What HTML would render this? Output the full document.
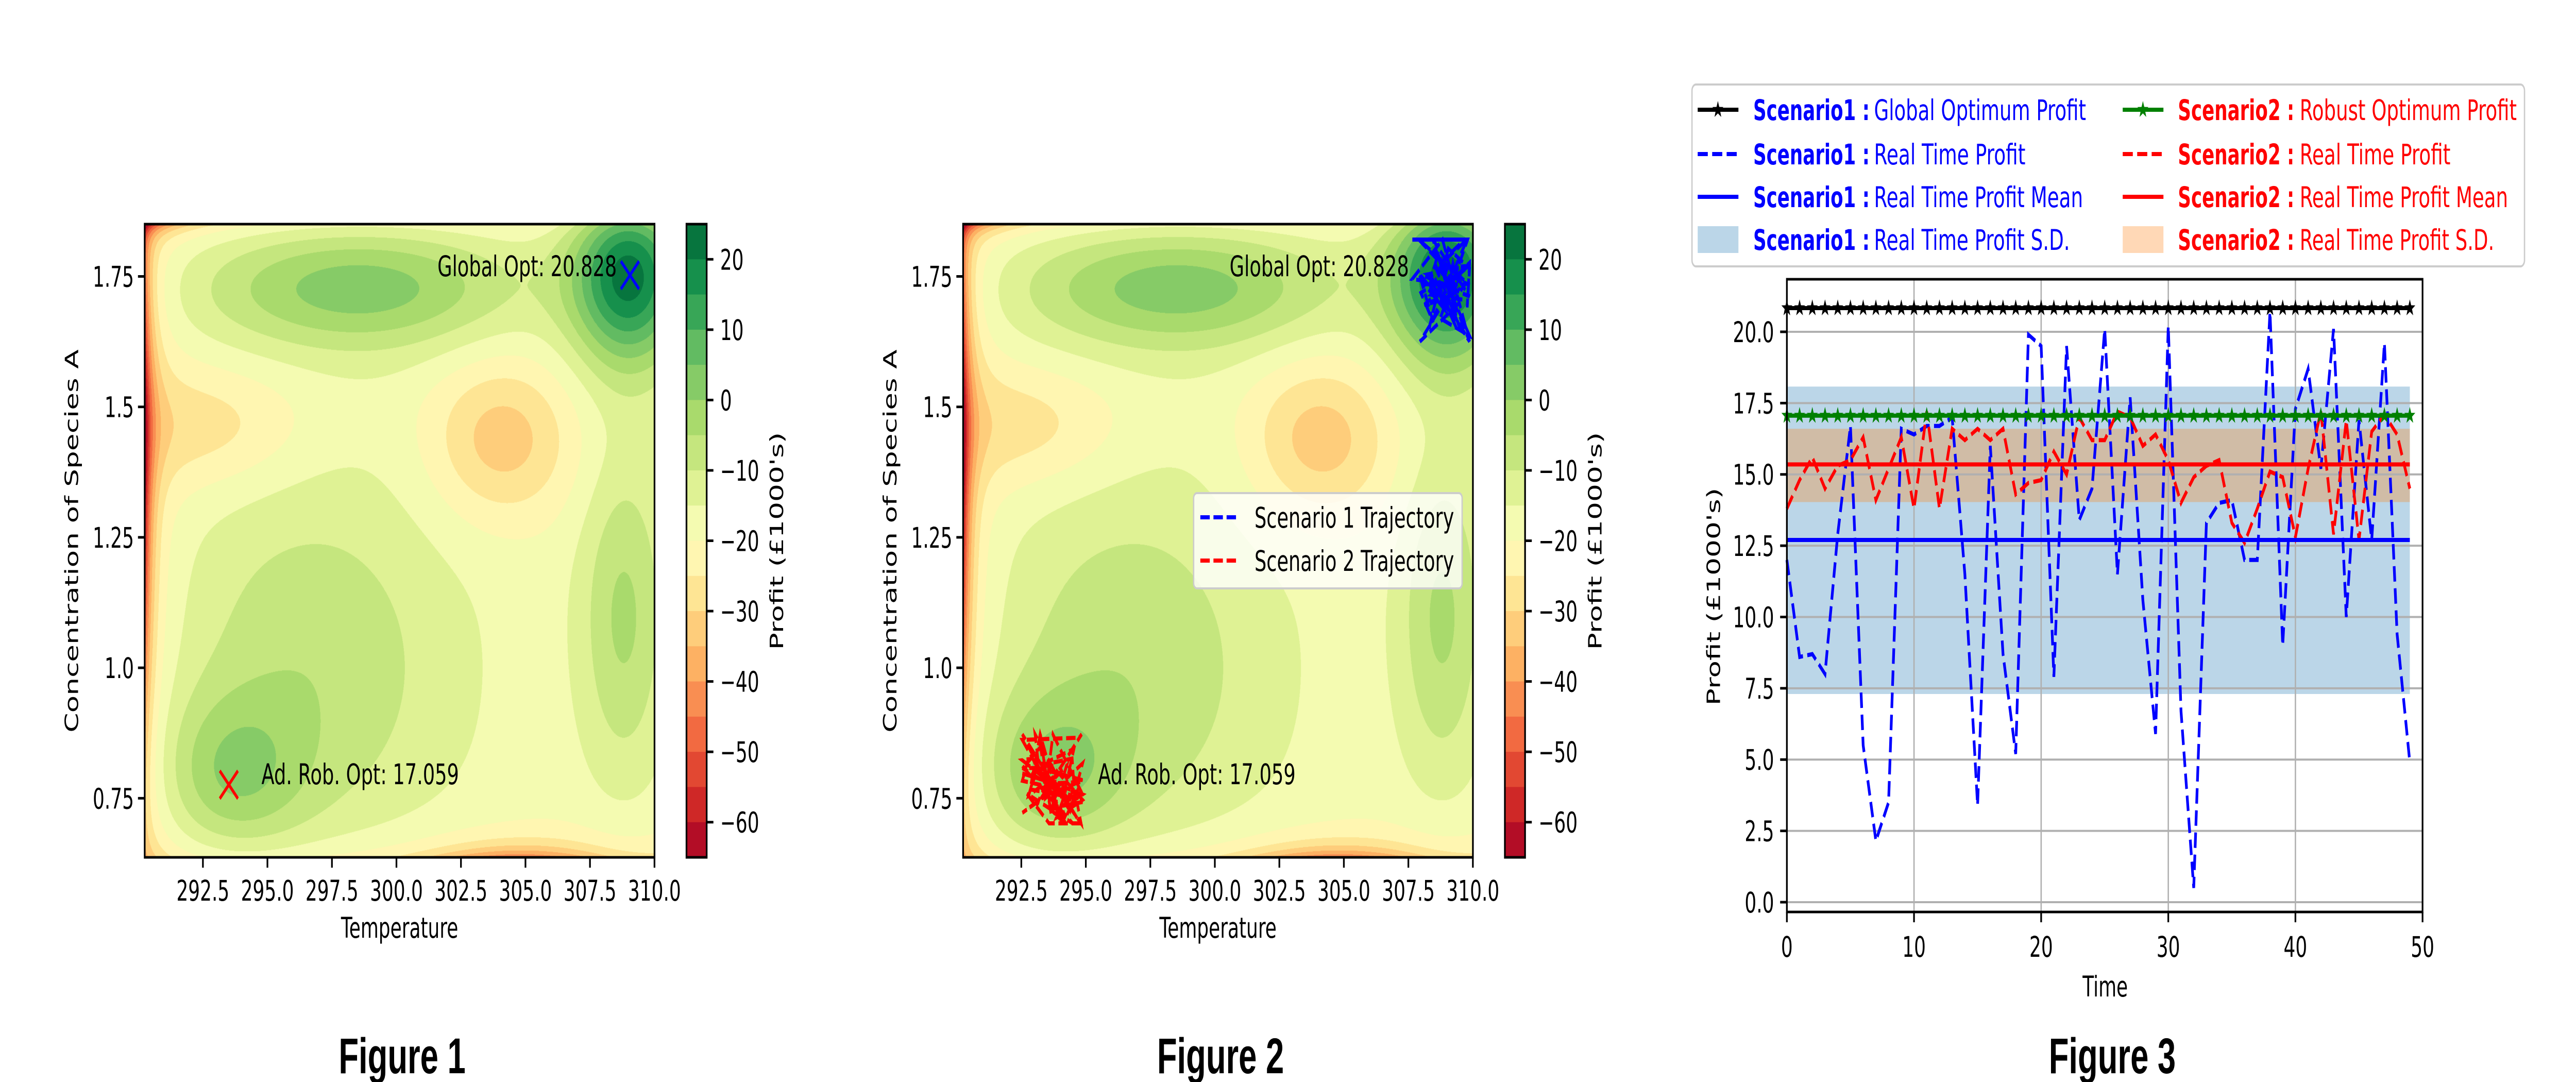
<!DOCTYPE html>
<html><head><meta charset="utf-8">
<meta name="viewport" content="width=7655, initial-scale=1">
<style>
html,body{margin:0;padding:0;background:#fff;overflow:hidden;}
#wrap{position:absolute;left:0;top:0;width:7655px;height:2100px;overflow:hidden;background:#fff;transform-origin:0 0;}
canvas{position:absolute;}
svg{position:absolute;left:0;top:0;}
text{font-family:"DejaVu Sans","Liberation Sans",sans-serif;}
</style></head><body>
<div id="wrap">
<canvas id="c1" width="1515" height="1229" style="left:430px;top:435px;"></canvas>
<canvas id="c2" width="1515" height="1229" style="left:2862px;top:435px;"></canvas>
<svg id="s" width="7655" height="2100" viewBox="0 0 7655 2100" xmlns="http://www.w3.org/2000/svg" style="overflow:hidden">
<defs>
<clipPath id="cp2"><rect x="2862" y="435" width="1515" height="1229"/></clipPath>
<polygon id="star" points="0,-17 4,-5.5 16.2,-5.3 6.5,2 10,14 0,7 -10,14 -6.5,2 -16.2,-5.3 -4,-5.5"/>
</defs>
<g id="g1"></g>
<g id="g2"></g>
<g id="g3"></g>
</svg>
</div>
<script>
(function(){var w=document.documentElement.clientWidth||window.innerWidth,h=window.innerHeight||document.documentElement.clientHeight;
if(w&&h&&(Math.abs(w-7655)>2||Math.abs(h-2100)>2)){document.getElementById('wrap').style.transform='scale('+(w/7655)+','+(h/2100)+')';}})();
var NS="http://www.w3.org/2000/svg";
function el(p,tag,attrs,txt){var e=document.createElementNS(NS,tag);for(var k in attrs)e.setAttribute(k,attrs[k]);if(txt!==undefined)e.textContent=txt;p.appendChild(e);return e;}
var anch=[[165,0,38],[215,48,39],[244,109,67],[253,174,97],[254,224,139],[255,255,191],[217,239,139],[166,217,106],[102,189,99],[26,152,80],[0,104,55]];
function cmap(t){t=Math.max(0,Math.min(1,t))*10;var i=Math.min(9,Math.floor(t)),f=t-i;var a=anch[i],b=anch[i+1];return [Math.round(a[0]+(b[0]-a[0])*f),Math.round(a[1]+(b[1]-a[1])*f),Math.round(a[2]+(b[2]-a[2])*f)];}
var NB=18,bandCol=[];for(var i=0;i<NB;i++)bandCol.push(cmap((i+0.5)/NB));
function G(dx,dy,sx,sy){return Math.exp(-0.5*(dx*dx/(sx*sx)+dy*dy/(sy*sy)));}
function f(u,v){
 var r=-18;
 r+=40*G(u-.95,v-.92,.08,.10);
 r+=21*G(u-.42,v-.90,.22,.07);
 r+=12*G(u-.33,v-.30,.20,.22);
 r+=14*G(u-.17,v-.13,.10,.09);
 r+=14*G(u-.94,v-.38,.06,.18);
 r-=15*G(u-.70,v-.66,.10,.09);
 r-=10*G(u-.12,v-.68,.14,.07);
 r-=38*Math.exp(-u/.015)*Math.exp(-0.5*Math.pow((v-.62)/.3,2));
 r-=10*Math.exp(-u/.05);
 r-=25*Math.exp(-(1-v)/.015)*Math.exp(-u/.08);
 r-=20*Math.exp(-v/.02)*Math.exp(-0.5*Math.pow((u-.73)/.12,2));
 r-=8*Math.exp(-v/.04);
 r-=6*Math.exp(-(1-v)/.03);
 return r;
}
var cv=document.getElementById('c1'),ctx=cv.getContext('2d');
var W=1515,H=1229,img=ctx.createImageData(W,H),d=img.data;
for(var y=0;y<H;y++){var v=1-(y+0.5)/H;for(var x=0;x<W;x++){var u=(x+0.5)/W;var z=f(u,v);var b=Math.floor((z+65)/5);if(b<0)b=0;if(b>17)b=17;var c=bandCol[b];var k=(y*W+x)*4;d[k]=c[0];d[k+1]=c[1];d[k+2]=c[2];d[k+3]=255;}}
ctx.putImageData(img,0,0);
document.getElementById('c2').getContext('2d').drawImage(cv,0,0);

function contourFig(g,ox,traj){
 var L=430+ox,R=1945+ox,T=435,B=1664;
 var xs=function(t){return 603+ox+(t-292.5)/2.5*191.7;};
 var ys=function(c){return 536.5+(1.75-c)/0.25*253.2;};
 if(traj){
  var seed=7;function rnd(){seed=(seed*16807)%2147483647;return seed/2147483647;}
  function walk(x0,x1,y0,y1,n,col){var pts=[];for(var i=0;i<n;i++){var a=(rnd()+rnd())/2,b=(rnd()+rnd())/2;a=Math.max(0,Math.min(1,0.5+(a-0.5)*1.5));b=Math.max(0,Math.min(1,0.5+(b-0.5)*1.5));pts.push((x0+a*(x1-x0)).toFixed(1)+','+(y0+b*(y1-y0)).toFixed(1));}
   el(g,'polyline',{points:pts.join(' '),fill:'none',stroke:col,'stroke-width':8,'stroke-dasharray':'28,11','clip-path':'url(#cp2)'});}
  walk(4197,4367,465,663,60,'#0000ff');
  walk(3038,3217,1425,1598,70,'#ff0000');
 }
 if(!traj){
  var bx=1872+ox,by=534;el(g,'path',{d:'M'+(bx-27)+','+(by-27)+'L'+(bx+27)+','+(by+27)+'M'+(bx-27)+','+(by+27)+'L'+(bx+27)+','+(by-27),stroke:'#0000ff','stroke-width':7,fill:'none'});
  var rx=680+ox,ry=1523;el(g,'path',{d:'M'+(rx-27)+','+(ry-27)+'L'+(rx+27)+','+(ry+27)+'M'+(rx-27)+','+(ry+27)+'L'+(rx+27)+','+(ry-27),stroke:'#ff0000','stroke-width':7,fill:'none'});
 }
 el(g,'text',{x:(traj?4187:1833),y:536,'font-size':55,'text-anchor':'end',textLength:533,lengthAdjust:'spacingAndGlyphs'},'Global Opt: 20.828');
 el(g,'text',{x:(traj?3263:777),y:1522,'font-size':55,textLength:587,lengthAdjust:'spacingAndGlyphs'},'Ad. Rob. Opt: 17.059');
 el(g,'rect',{x:L,y:T,width:R-L,height:B-T,fill:'none',stroke:'#000','stroke-width':5});
 var xt=['292.5','295.0','297.5','300.0','302.5','305.0','307.5','310.0'];
 for(var i=0;i<xt.length;i++){var X=xs(292.5+2.5*i);el(g,'line',{x1:X,y1:B,x2:X,y2:B+20,stroke:'#000','stroke-width':5});el(g,'text',{x:X,y:B+84,'font-size':55,'text-anchor':'middle'},xt[i]);}
 var yt=[[1.75,'1.75'],[1.5,'1.5'],[1.25,'1.25'],[1.0,'1.0'],[0.75,'0.75']];
 for(var i=0;i<yt.length;i++){var Y=ys(yt[i][0]);el(g,'line',{x1:L-20,y1:Y,x2:L,y2:Y,stroke:'#000','stroke-width':5});el(g,'text',{x:L-32,y:Y+20,'font-size':55,'text-anchor':'end'},yt[i][1]);}
 el(g,'text',{x:(L+R)/2,y:1820,'font-size':55,'text-anchor':'middle'},'Temperature');
 var yl=213+ox;el(g,'text',{x:yl,y:1050,'font-size':55,'text-anchor':'middle','dominant-baseline':'central',transform:'rotate(-90 '+yl+' 1050)'},'Concentration of Species A');
 var cx=2040+ox,bh=(B-T)/18;
 for(var i=0;i<18;i++){var c=bandCol[17-i];el(g,'rect',{x:cx,y:T+i*bh,width:60,height:bh+0.6,fill:'rgb('+c.join(',')+')'});}
 el(g,'rect',{x:cx,y:T,width:60,height:B-T,fill:'none',stroke:'#000','stroke-width':5});
 var ct=[20,10,0,-10,-20,-30,-40,-50,-60];
 for(var i=0;i<ct.length;i++){var Y=T+(25-ct[i])/90*(B-T);el(g,'line',{x1:cx+60,y1:Y,x2:cx+80,y2:Y,stroke:'#000','stroke-width':5});el(g,'text',{x:cx+100,y:Y+20,'font-size':55},(ct[i]<0?'\u2212'+(-ct[i]):''+ct[i]));}
 var cl=2308+ox;el(g,'text',{x:cl,y:1050,'font-size':55,'text-anchor':'middle','dominant-baseline':'central',transform:'rotate(-90 '+cl+' 1050)'},"Profit (\u00a31000's)");
 if(traj){
  el(g,'rect',{x:3547,y:957,width:798,height:185,rx:10,fill:'#fff','fill-opacity':0.8,stroke:'#cccccc','stroke-width':4});
  el(g,'line',{x1:3567,y1:1004,x2:3683,y2:1004,stroke:'#0000ff','stroke-width':8,'stroke-dasharray':'28,11'});
  el(g,'line',{x1:3567,y1:1088,x2:3683,y2:1088,stroke:'#ff0000','stroke-width':8,'stroke-dasharray':'28,11'});
  el(g,'text',{x:3728,y:1024,'font-size':55,textLength:593,lengthAdjust:'spacingAndGlyphs'},'Scenario 1 Trajectory');
  el(g,'text',{x:3728,y:1108,'font-size':55,textLength:593,lengthAdjust:'spacingAndGlyphs'},'Scenario 2 Trajectory');
 }
 el(g,'text',{x:1195+ox,y:2083,'font-size':97,'font-weight':'bold','text-anchor':'middle',style:'font-family:"Liberation Sans",Arial,sans-serif'},traj?'Figure 2':'Figure 1');
}
contourFig(document.getElementById('g1'),0,false);
contourFig(document.getElementById('g2'),2432,true);

(function(){
 var g=document.getElementById('g3');
 var L=5310,R=7199,T=542,B=1770;
 var X=function(t){return L+t*37.78;},Y=function(v){return 1751-v*55.35;};
 el(g,'rect',{x:X(0),y:Y(18.08),width:X(49)-X(0),height:Y(7.3)-Y(18.08),fill:'rgb(31,119,180)','fill-opacity':0.3});
 el(g,'rect',{x:X(0),y:Y(16.6),width:X(49)-X(0),height:Y(14.03)-Y(16.6),fill:'rgb(255,127,14)','fill-opacity':0.3});
 for(var t=0;t<=50;t+=10)el(g,'line',{x1:X(t),y1:T,x2:X(t),y2:B,stroke:'#b0b0b0','stroke-width':4});
 for(var v=0;v<=20;v+=2.5)el(g,'line',{x1:L,y1:Y(v),x2:R,y2:Y(v),stroke:'#b0b0b0','stroke-width':4});
 var blue=[12.0,8.6,8.7,8.0,12.9,16.7,5.5,2.15,3.5,16.6,16.4,16.7,16.7,17.0,11.5,3.4,16.0,8.7,5.2,19.9,19.5,7.9,19.5,13.4,14.5,20.1,11.5,17.7,10.6,5.9,20.2,6.7,0.5,13.3,14.0,14.1,12.0,12.0,20.7,9.0,17.3,18.7,15.2,20.1,10.0,16.9,12.7,19.6,9.4,4.9];
 var red=[13.8,14.8,15.6,14.5,15.3,15.5,16.3,14.1,15.2,16.3,13.8,17.2,13.8,16.6,16.2,16.6,16.2,16.6,14.3,14.7,14.8,15.8,15.0,17.0,16.2,16.2,17.2,17.0,16.0,16.4,15.5,14.0,14.9,15.3,15.5,13.3,12.6,13.8,15.1,14.9,12.8,15.2,17.2,12.9,16.9,12.7,16.5,17.1,16.4,14.5];
 function pl(a){return a.map(function(v,i){return X(i).toFixed(1)+','+Y(v).toFixed(1);}).join(' ');}
 el(g,'polyline',{points:pl(blue),fill:'none',stroke:'#0000ff','stroke-width':8,'stroke-dasharray':'30,13'});
 el(g,'polyline',{points:pl(red),fill:'none',stroke:'#ff0000','stroke-width':8,'stroke-dasharray':'30,13'});
 el(g,'line',{x1:X(0),y1:Y(12.7),x2:X(49),y2:Y(12.7),stroke:'#0000ff','stroke-width':8});
 el(g,'line',{x1:X(0),y1:Y(15.35),x2:X(49),y2:Y(15.35),stroke:'#ff0000','stroke-width':8});
 el(g,'line',{x1:X(0),y1:Y(20.83),x2:X(49),y2:Y(20.83),stroke:'#000','stroke-width':8});
 el(g,'line',{x1:X(0),y1:Y(17.06),x2:X(49),y2:Y(17.06),stroke:'#008000','stroke-width':8});
 for(var t=0;t<50;t++){el(g,'use',{href:'#star',x:X(t),y:Y(20.83),fill:'#000'});el(g,'use',{href:'#star',x:X(t),y:Y(17.06),fill:'#008000'});}
 el(g,'rect',{x:L,y:T,width:R-L,height:B-T,fill:'none',stroke:'#000','stroke-width':5});
 for(var t=0;t<=50;t+=10){el(g,'line',{x1:X(t),y1:B,x2:X(t),y2:B+20,stroke:'#000','stroke-width':5});el(g,'text',{x:X(t),y:1857,'font-size':55,'text-anchor':'middle'},''+t);}
 for(var v=0;v<=20;v+=2.5){el(g,'line',{x1:L-20,y1:Y(v),x2:L,y2:Y(v),stroke:'#000','stroke-width':5});el(g,'text',{x:5272,y:Y(v)+20,'font-size':55,'text-anchor':'end'},v.toFixed(1));}
 el(g,'text',{x:6256,y:1934,'font-size':55,'text-anchor':'middle'},'Time');
 el(g,'text',{x:5092,y:1158,'font-size':55,'text-anchor':'middle','dominant-baseline':'central',transform:'rotate(-90 5092 1158)'},"Profit (\u00a31000's)");
 el(g,'rect',{x:5028,y:164,width:2474,height:353,rx:12,fill:'#fff',stroke:'#cccccc','stroke-width':4});
 var rows=[213,299,382,465];
 var c1=['Global Optimum Profit','Real Time Profit','Real Time Profit Mean','Real Time Profit S.D.'];
 var c2=['Robust Optimum Profit','Real Time Profit','Real Time Profit Mean','Real Time Profit S.D.'];
 var w1=[630,450,621,582],w2=[645,448,619,578];
 el(g,'line',{x1:5045,y1:rows[0],x2:5166,y2:rows[0],stroke:'#000','stroke-width':8});el(g,'use',{href:'#star',x:5105,y:rows[0],fill:'#000'});
 el(g,'line',{x1:5045,y1:rows[1],x2:5166,y2:rows[1],stroke:'#0000ff','stroke-width':8,'stroke-dasharray':'30,13'});
 el(g,'line',{x1:5045,y1:rows[2],x2:5166,y2:rows[2],stroke:'#0000ff','stroke-width':8});
 el(g,'rect',{x:5045,y:rows[3]-26,width:121,height:52,fill:'rgb(31,119,180)','fill-opacity':0.3});
 el(g,'line',{x1:6308,y1:rows[0],x2:6429,y2:rows[0],stroke:'#008000','stroke-width':8});el(g,'use',{href:'#star',x:6368,y:rows[0],fill:'#008000'});
 el(g,'line',{x1:6308,y1:rows[1],x2:6429,y2:rows[1],stroke:'#ff0000','stroke-width':8,'stroke-dasharray':'30,13'});
 el(g,'line',{x1:6308,y1:rows[2],x2:6429,y2:rows[2],stroke:'#ff0000','stroke-width':8});
 el(g,'rect',{x:6308,y:rows[3]-26,width:121,height:52,fill:'rgb(255,127,14)','fill-opacity':0.3});
 for(var i=0;i<4;i++){
  var yb=rows[i]+20;
  el(g,'text',{x:5210,y:yb,'font-size':55,'font-weight':'bold',fill:'#0000ff',textLength:346,lengthAdjust:'spacingAndGlyphs'},'Scenario1 :');
  el(g,'text',{x:5569,y:yb,'font-size':55,fill:'#0000ff',textLength:w1[i],lengthAdjust:'spacingAndGlyphs'},c1[i]);
  el(g,'text',{x:6472,y:yb,'font-size':55,'font-weight':'bold',fill:'#ff0000',textLength:346,lengthAdjust:'spacingAndGlyphs'},'Scenario2 :');
  el(g,'text',{x:6834,y:yb,'font-size':55,fill:'#ff0000',textLength:w2[i],lengthAdjust:'spacingAndGlyphs'},c2[i]);
 }
 el(g,'text',{x:6277,y:2083,'font-size':97,'font-weight':'bold','text-anchor':'middle',style:'font-family:"Liberation Sans",Arial,sans-serif'},'Figure 3');
})();
</script>
</body></html>
